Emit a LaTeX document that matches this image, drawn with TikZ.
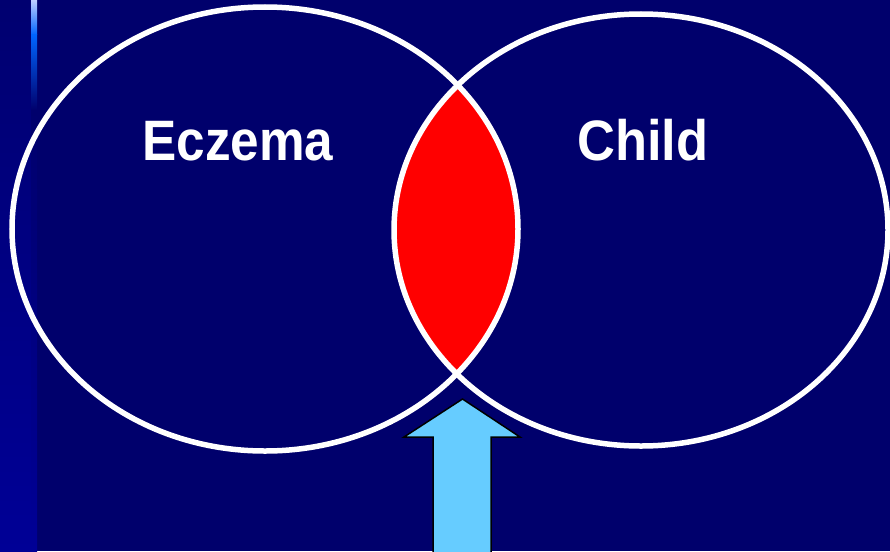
\documentclass[tikz,border=0pt]{standalone}
\usepackage{fontspec}
\setmainfont{Liberation Sans}
\begin{document}
\begin{tikzpicture}[x=1pt,y=-1pt]
\definecolor{navy}{RGB}{0,0,108}
\definecolor{stripbot}{RGB}{0,0,150}
\definecolor{striptop}{RGB}{0,0,112}
\definecolor{barblue}{RGB}{0,100,255}
\definecolor{barlight}{RGB}{190,205,255}
\definecolor{arrowblue}{RGB}{102,204,255}
\definecolor{lensred}{RGB}{255,0,0}
\tikzset{
  ring/.style={draw=white, line width=5.5pt},
  label/.style={text=white, anchor=base, font=\bfseries\fontsize{57}{60}\selectfont},
  upperarrow/.style={draw=black, fill=arrowblue, line width=1.5pt, line join=miter}
}
\useasboundingbox (0,0) rectangle (890,551);
% background
\fill[navy] (0,0) rectangle (890,551);
\shade[top color=striptop, bottom color=stripbot] (0,0) rectangle (31,551);
\shade[top color=barlight, bottom color=barblue] (31,0) rectangle (37,35);
\shade[top color=barblue, bottom color=navy] (31,35) rectangle (37,110);
\shade[top color=navy, bottom color=stripbot] (31,110) rectangle (37,551);
% red intersection
\begin{scope}
  \clip (265,229) ellipse [x radius=253, y radius=222];
  \fill[lensred] (641,230) ellipse [x radius=247, y radius=216];
\end{scope}
% ellipses
\draw[ring] (265,229) ellipse [x radius=253, y radius=222];
\draw[ring] (641,230) ellipse [x radius=247, y radius=216];
% labels
\node[label] (eczema) at (238,160) {\scalebox{0.9}[1]{Eczema}};
\node[label] (child) at (643,160) {\scalebox{0.92}[1]{Child}};
% arrow
\draw[upperarrow] (433,553) -- (433,437) -- (404,437) -- (462.5,399) -- (520,437) -- (491,437) -- (491,553);
\end{tikzpicture}
\end{document}
